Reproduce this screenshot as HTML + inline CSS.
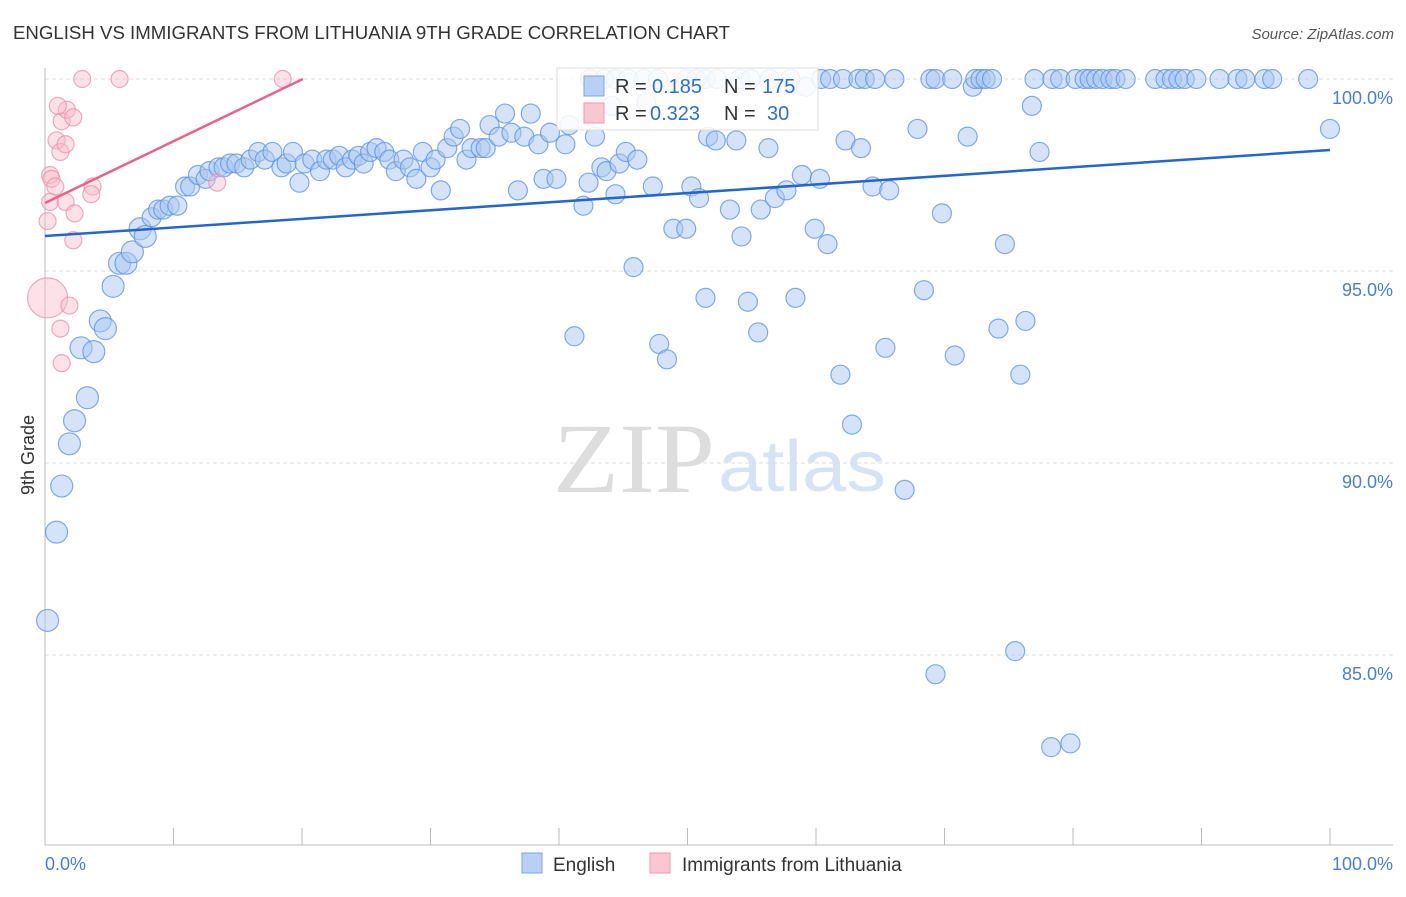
<!DOCTYPE html>
<html><head><meta charset="utf-8"><style>
body{margin:0;background:#fff;}
svg text{font-family:"Liberation Sans",sans-serif;}
</style></head><body>
<svg width="1406" height="892" viewBox="0 0 1406 892">
<text x="13" y="39" font-size="18" fill="#333" textLength="717" lengthAdjust="spacingAndGlyphs">ENGLISH VS IMMIGRANTS FROM LITHUANIA 9TH GRADE CORRELATION CHART</text>
<text x="1394" y="39" font-size="15" fill="#555" font-style="italic" text-anchor="end">Source: ZipAtlas.com</text>
<text x="0" y="0" font-size="18" fill="#333" text-anchor="middle" transform="translate(34,455) rotate(-90)">9th Grade</text>
<g id="watermark">
<text x="553" y="492" font-size="100" fill="#ddd" textLength="162" lengthAdjust="spacingAndGlyphs" style="font-family:'Liberation Serif',serif">ZIP</text>
<text x="718" y="491" font-size="72" fill="#d6e3f5" textLength="168" lengthAdjust="spacingAndGlyphs">atlas</text>
</g>
<g id="grid"></g>
<g id="axes"></g>
<g id="pts"></g>
<g id="lines"></g>
<g>
<rect x="557" y="68" width="261" height="62" fill="#fff" fill-opacity="0.85" stroke="#ddd"/>
<rect x="584" y="76" width="20" height="20" fill="#b7d0f3" stroke="#7aa6e6"/>
<rect x="584" y="103" width="20" height="20" fill="#f9c6d4" stroke="#ee9ab2"/>
<text y="93" font-size="20" fill="#333"><tspan x="615">R =</tspan><tspan x="652" fill="#2f6fd0">0.185</tspan><tspan x="724">N =</tspan><tspan x="762" fill="#2f6fd0">175</tspan></text>
<text y="120" font-size="20" fill="#333"><tspan x="615">R =</tspan><tspan x="650" fill="#2f6fd0">0.323</tspan><tspan x="724">N =</tspan><tspan x="767" fill="#2f6fd0">30</tspan></text>
</g>
<g>
<rect x="522" y="853" width="20" height="20" fill="#b7d0f3" stroke="#7aa6e6"/>
<text x="553" y="871" font-size="19" fill="#333">English</text>
<rect x="650" y="853" width="20" height="20" fill="#f9c6d4" stroke="#ee9ab2"/>
<text x="682" y="871" font-size="19" fill="#333">Immigrants from Lithuania</text>
</g>
</svg>
<script>
const yTicks=[100,95,90,85];
const yTickLabels=["100.0%","95.0%","90.0%","85.0%"];
const xTicks=[0,10,20,30,40,50,60,70,80,90,100];
const xTickLabels=["0.0%","100.0%"];
const englishX=[0.2,0.9,1.3,1.9,2.3,3.3,2.8,3.8,4.3,4.7,5.3,5.8,6.3,6.8,7.4,7.8,8.3,8.8,9.2,9.7,10.3,10.9,11.3,11.9,12.5,12.8,13.5,13.9,14.4,14.9,15.5,16.0,16.6,17.1,17.7,18.4,18.8,19.3,19.8,20.2,20.8,21.4,21.9,22.4,22.9,23.4,23.9,24.4,24.8,25.3,25.8,26.4,26.8,27.3,27.9,28.4,28.9,29.4,30.0,30.4,30.8,31.3,31.8,32.3,32.8,33.2,33.9,34.3,34.6,35.3,35.8,36.3,36.8,37.3,37.8,38.4,38.8,39.3,39.8,40.5,40.8,41.2,41.9,42.3,42.8,43.3,43.7,44.1,44.4,44.7,45.2,45.8,46.1,46.8,47.3,47.8,48.4,48.9,49.9,50.3,50.9,51.4,51.6,52.2,53.3,53.8,54.2,54.7,55.5,55.7,56.3,56.8,57.7,58.4,58.9,59.2,59.9,60.3,60.9,61.9,62.3,62.8,63.5,64.4,65.4,65.7,66.9,67.9,68.4,69.3,69.8,70.8,71.8,72.2,74.2,74.7,75.5,75.9,76.3,76.8,77.4,78.3,79.8,100,
42.4,43.5,44.4,45.4,46.6,47.7,49.9,50.7,51.4,52.3,54.1,54.9,56.4,58.0,60.4,61.1,62.1,63.3,63.8,64.6,66.1,68.9,69.3,70.6,72.4,72.8,73.2,73.7,77.0,78.4,79.0,80.2,80.9,81.3,81.8,82.3,82.9,83.3,84.1,86.4,87.2,87.7,88.2,88.7,89.6,91.4,92.8,93.4,94.9,95.5,98.3];
const englishY=[85.9,88.2,89.4,90.5,91.1,91.7,93.0,92.9,93.7,93.5,94.6,95.2,95.2,95.5,96.1,95.9,96.4,96.6,96.6,96.7,96.7,97.2,97.2,97.5,97.4,97.6,97.7,97.7,97.8,97.8,97.7,97.9,98.1,97.9,98.1,97.7,97.8,98.1,97.3,97.8,97.9,97.6,97.9,97.9,98.0,97.7,97.9,98.0,97.8,98.1,98.2,98.1,97.9,97.6,97.9,97.7,97.4,98.1,97.7,97.9,97.1,98.2,98.5,98.7,97.9,98.2,98.2,98.2,98.8,98.5,99.1,98.6,97.1,98.5,99.1,98.3,97.4,98.6,97.4,98.3,98.8,93.3,96.7,97.3,98.5,97.7,97.6,99.3,97.0,97.8,98.1,95.1,97.9,99.4,97.2,93.1,92.7,96.1,96.1,97.2,96.9,94.3,98.5,98.4,96.6,98.4,95.9,94.2,93.4,96.6,98.2,96.9,97.1,94.3,97.5,99.8,96.1,97.4,95.7,92.3,98.4,91.0,98.2,97.2,93.0,97.1,89.3,98.7,94.5,84.5,96.5,92.8,98.5,99.8,93.5,95.7,85.1,92.3,93.7,99.3,98.1,82.6,82.7,98.7,
100,100,100,100,100,100,100,100,100,100,100,100,100,100,100,100,100,100,100,100,100,100,100,100,100,100,100,100,100,100,100,100,100,100,100,100,100,100,100,100,100,100,100,100,100,100,100,100,100,100,100];
const lithX=[0.2,0.4,0.2,0.4,0.5,0.8,0.9,1.2,1.3,1.6,1.7,2.2,1.0,1.6,2.3,2.2,1.9,1.2,1.3,3.7,3.6,2.9,5.8,18.5,13.4];
const lithY=[94.3,96.8,96.3,97.5,97.4,97.2,98.4,98.1,98.9,98.3,99.2,99.0,99.3,96.8,96.5,95.8,94.1,93.5,92.6,97.2,97.0,100,100,100,97.3];
const englishTrend=[95.91,98.15];
const lithTrend=[96.77,100];
const lithTrendEndX=20.07;

const X0=45,X1=1330,Y100=79,PXPER=38.4;
const sx=v=>X0+(X1-X0)*v/100;
const sy=v=>Y100+(100-v)*PXPER;
const NS='http://www.w3.org/2000/svg';
function mk(tag,attrs,parent){const e=document.createElementNS(NS,tag);for(const k in attrs)e.setAttribute(k,attrs[k]);parent.appendChild(e);return e;}
const grid=document.getElementById('grid'),axes=document.getElementById('axes'),pts=document.getElementById('pts'),lines=document.getElementById('lines');
yTicks.forEach((t,i)=>{
 const l=mk('line',{x1:45,x2:1393,y1:sy(t),y2:sy(t),stroke:'#ddd','stroke-dasharray':'4,3'},grid);
 
 
 const tx=mk('text',{x:1393,y:sy(t)+25,'font-size':18,fill:'#4a7fd0','text-anchor':'end'},grid);
 tx.textContent=yTickLabels[i];
 
 
});
const la=mk('line',{x1:45,x2:45,y1:68,y2:845,stroke:'#bbb'},axes);


const lb=mk('line',{x1:45,x2:1393,y1:845,y2:845,stroke:'#bbb'},axes);


xTicks.forEach(t=>{
 const tk=mk('line',{x1:sx(t),x2:sx(t),y1:828,y2:845,stroke:'#bbb'},axes);
 
 
});
const xl0=mk('text',{x:45,y:870,'font-size':18,fill:'#4a7fd0'},axes);xl0.textContent=xTickLabels[0];


const xl1=mk('text',{x:1393,y:870,'font-size':18,fill:'#4a7fd0','text-anchor':'end'},axes);xl1.textContent=xTickLabels[1];


englishX.forEach((x,i)=>{
 const c=mk('circle',{cx:sx(x),cy:sy(englishY[i]),r:x<8?11:9.5,fill:'#a9c8f1','fill-opacity':0.5,stroke:'#5b92e0','stroke-opacity':0.75,'stroke-width':1.2},pts);
 
 
});
lithX.forEach((x,i)=>{
 const c=mk('circle',{cx:sx(x),cy:sy(lithY[i]),r:i===0?20:8.5,fill:'#f8bccd','fill-opacity':0.45,stroke:'#ec8fab','stroke-opacity':0.75,'stroke-width':1.2},pts);
 
 
});
const t1=mk('line',{x1:sx(0),y1:sy(englishTrend[0]),x2:sx(100),y2:sy(englishTrend[1]),stroke:'#2466cf','stroke-width':2.5},lines);


const t2=mk('line',{x1:sx(0),y1:sy(lithTrend[0]),x2:sx(lithTrendEndX),y2:sy(lithTrend[1]),stroke:'#e8628a','stroke-width':2.5},lines);


</script>
</body></html>
